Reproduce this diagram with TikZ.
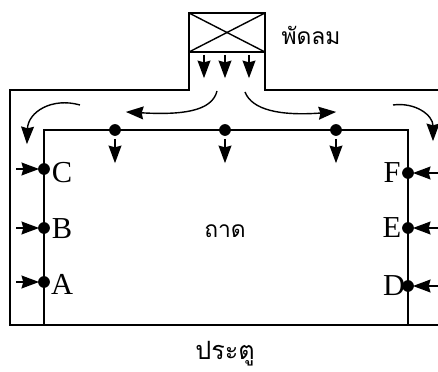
\documentclass[tikz,border=0pt]{standalone}
\usepackage{fontspec}
\setmainfont{Liberation Serif}
\newfontfamily\thaifont[Script=Thai]{Loma}
\usetikzlibrary{arrows.meta}

\begin{document}
\begin{tikzpicture}[
    x=0.03cm, y=-0.03cm,
    wall/.style={line width=1.2pt, black},
    tray/.style={line width=1.8pt, black},
    dot/.style={circle, fill=black, inner sep=0pt, minimum size=10pt},
    flow/.style={line width=1.2pt, -{Stealth[length=15pt, width=11pt, inset=1.5pt]}, shorten >=-1pt},
    letter/.style={font=\fontsize{26}{28}\selectfont, inner sep=0pt},
    thai/.style={font=\thaifont\fontsize{19.5}{22}\selectfont, inner sep=0pt}
]
    \useasboundingbox (0,0) rectangle (438,372);
    % duct and fan
    \draw[wall] (438,90) -- (265,90) -- (265,13) -- (189,13) -- (189,90) -- (10,90) -- (10,325) -- (438,325);
    \draw[tray] (189,52) -- (265,52);
    \draw[wall] (189,13) -- (265,52);
    \draw[wall] (189,52) -- (265,13);
    % tray
    \draw[tray] (44,325) -- (44,130) -- (408,130) -- (408,325);
    % points on the tray
    \node[dot] (t1) at (115,130) {};
    \node[dot] (t2) at (225,130) {};
    \node[dot] (t3) at (336,130) {};
    \node[dot] (c) at (44,169) {};
    \node[dot] (b) at (44,228) {};
    \node[dot] (a) at (44,282) {};
    \node[dot] (f) at (408,173) {};
    \node[dot] (e) at (408,228) {};
    \node[dot] (d) at (408,286) {};
    % free ends
    \coordinate (c0) at (16,169);
    \coordinate (b0) at (16,228);
    \coordinate (a0) at (16,282);
    \coordinate (f0) at (438,173);
    \coordinate (e0) at (438,228);
    \coordinate (d0) at (438,286);
    \draw[flow] (c0) -- (c);
    \draw[flow] (b0) -- (b);
    \draw[flow] (a0) -- (a);
    \draw[flow] (f0) -- (f);
    \draw[flow] (e0) -- (e);
    \draw[flow] (d0) -- (d);
    % air under the fan
    \draw[flow] (204,55) -- (204,77);
    \draw[flow] (225,55) -- (225,77);
    \draw[flow] (249,55) -- (249,77);
    % air in the duct
    \draw[flow] (217,91) .. controls (212,112) and (180,115) .. (127,112);
    \draw[flow] (245,92) .. controls (252,110) and (280,116) .. (335,112);
    \draw[flow] (80,105) .. controls (52,97) and (28,112) .. (27,143);
    \draw[flow] (393,105) .. controls (415,102) and (433,115) .. (433,140);
    % air through the tray
    \draw[flow] (t1) ++(0,9) -- ++(0,23);
    \draw[flow] (t2) ++(0,9) -- ++(0,23);
    \draw[flow] (t3) ++(0,9) -- ++(0,23);
    % labels
    \node[letter] (lc) at (62,173) {C};
    \node[letter] (lb) at (62,229) {B};
    \node[letter] (la) at (62,284) {A};
    \node[letter] (lf) at (392,173) {F};
    \node[letter] (le) at (392,228) {E};
    \node[letter] (ld) at (394,286) {D};
    \node[thai] (fan) at (311,35) {พัดลม};
    \node[thai] (trayname) at (225,231) {ถาด};
    \node[thai, font=\thaifont\fontsize{21.5}{24}\selectfont] (door) at (225,354) {ประตู};
\end{tikzpicture}
\end{document}
